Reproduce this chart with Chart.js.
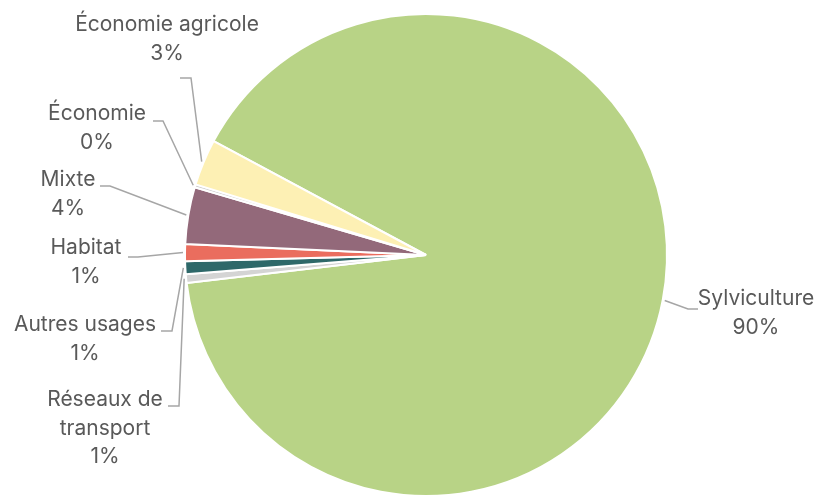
<!DOCTYPE html>
<html lang="fr">
<head>
<meta charset="utf-8">
<title>Répartition par usage</title>
<script src="https://cdn.jsdelivr.net/npm/chart.js@4.4.1/dist/chart.umd.min.js"></script>
<style>
  html, body { margin: 0; padding: 0; background: #ffffff; overflow: hidden; }
  #zone { position: relative; width: 829px; height: 510px; }
</style>
</head>
<body>
<div id="zone"><canvas id="graphiqueUsages"></canvas></div>
<script>
// usages, dans l'ordre de tracé (sens horaire à partir de la sylviculture)
const usages = [
  'Sylviculture',
  'Réseaux de transport',
  'Autres usages',
  'Habitat',
  'Mixte',
  'Économie',
  'Économie agricole'
];
const parts = [90.32, 0.58, 0.86, 1.14, 3.8, 0.2, 3.1];
const couleurs = ['#b8d386', '#d4d4d4', '#2e6869', '#ea6d5e', '#93697a', '#cfcfcf', '#fdf0b4'];

// lignes de texte de chaque étiquette (le pourcentage est ajouté au dessin)
const lignesEtiquettes = [
  ['Sylviculture'],
  ['Réseaux de', 'transport'],
  ['Autres usages'],
  ['Habitat'],
  ['Mixte'],
  ['Économie'],
  ['Économie agricole']
];

// placement des étiquettes : centre de la première ligne, départ et coude du trait de rappel
const placement = [
  { x: 756, y: 299, depart: [698, 309], coude: [688, 309] },
  { x: 105, y: 400, depart: [168, 406], coude: [179, 406] },
  { x: 85, y: 325, depart: [161, 331], coude: [172, 331] },
  { x: 86, y: 248, depart: [128, 257], coude: [138, 257] },
  { x: 68, y: 180, depart: [100, 186], coude: [110, 186] },
  { x: 97, y: 114, depart: [153, 121], coude: [163, 121] },
  { x: 167, y: 25, depart: [180, 78], coude: [191, 78] }
];

const etiquettesPlugin = {
  id: 'etiquettesPlugin',
  afterDatasetsDraw(chart) {
    const ctx = chart.ctx;
    const arcs = chart.getDatasetMeta(0).data;
    const total = parts.reduce((a, b) => a + b, 0);

    ctx.save();
    for (let i = 0; i < arcs.length; i++) {
      const arc = arcs[i];
      const p = placement[i];
      const milieu = (arc.startAngle + arc.endAngle) / 2;
      const r = arc.outerRadius + 2;
      const finX = arc.x + Math.cos(milieu) * r;
      const finY = arc.y + Math.sin(milieu) * r;

      // trait de rappel
      ctx.strokeStyle = '#a6a6a6';
      ctx.lineWidth = 1.5;
      ctx.beginPath();
      ctx.moveTo(p.depart[0], p.depart[1]);
      ctx.lineTo(p.coude[0], p.coude[1]);
      ctx.lineTo(finX, finY);
      ctx.stroke();

      // texte : nom puis pourcentage arrondi
      const pourcent = Math.round(parts[i] / total * 100) + '%';
      const lignes = lignesEtiquettes[i].concat([pourcent]);
      ctx.fillStyle = '#595959';
      ctx.font = '21px Inter';
      ctx.textAlign = 'center';
      ctx.textBaseline = 'middle';
      lignes.forEach((txt, k) => {
        ctx.fillText(txt, p.x, p.y + k * 28.5);
      });
    }
    ctx.restore();
  }
};

function dessineGraphique() {
  const ctx = document.getElementById('graphiqueUsages').getContext('2d');

  new Chart(ctx, {
    type: 'pie',
    data: {
      labels: usages,
      datasets: [
        {
          data: parts,
          backgroundColor: couleurs,
          borderColor: '#ffffff',
          borderWidth: 2,
        },
      ],
    },
    options: {
      responsive: true,
      maintainAspectRatio: false,
      animation: false,
      rotation: -61.8,
      layout: {
        padding: { left: 23, right: 0, top: 13, bottom: 13 }
      },
      plugins: {
        legend: { display: false },
        tooltip: { enabled: false }
      }
    },
    plugins: [etiquettesPlugin]
  });
}

window.addEventListener('load', dessineGraphique);
</script>
</body>
</html>
